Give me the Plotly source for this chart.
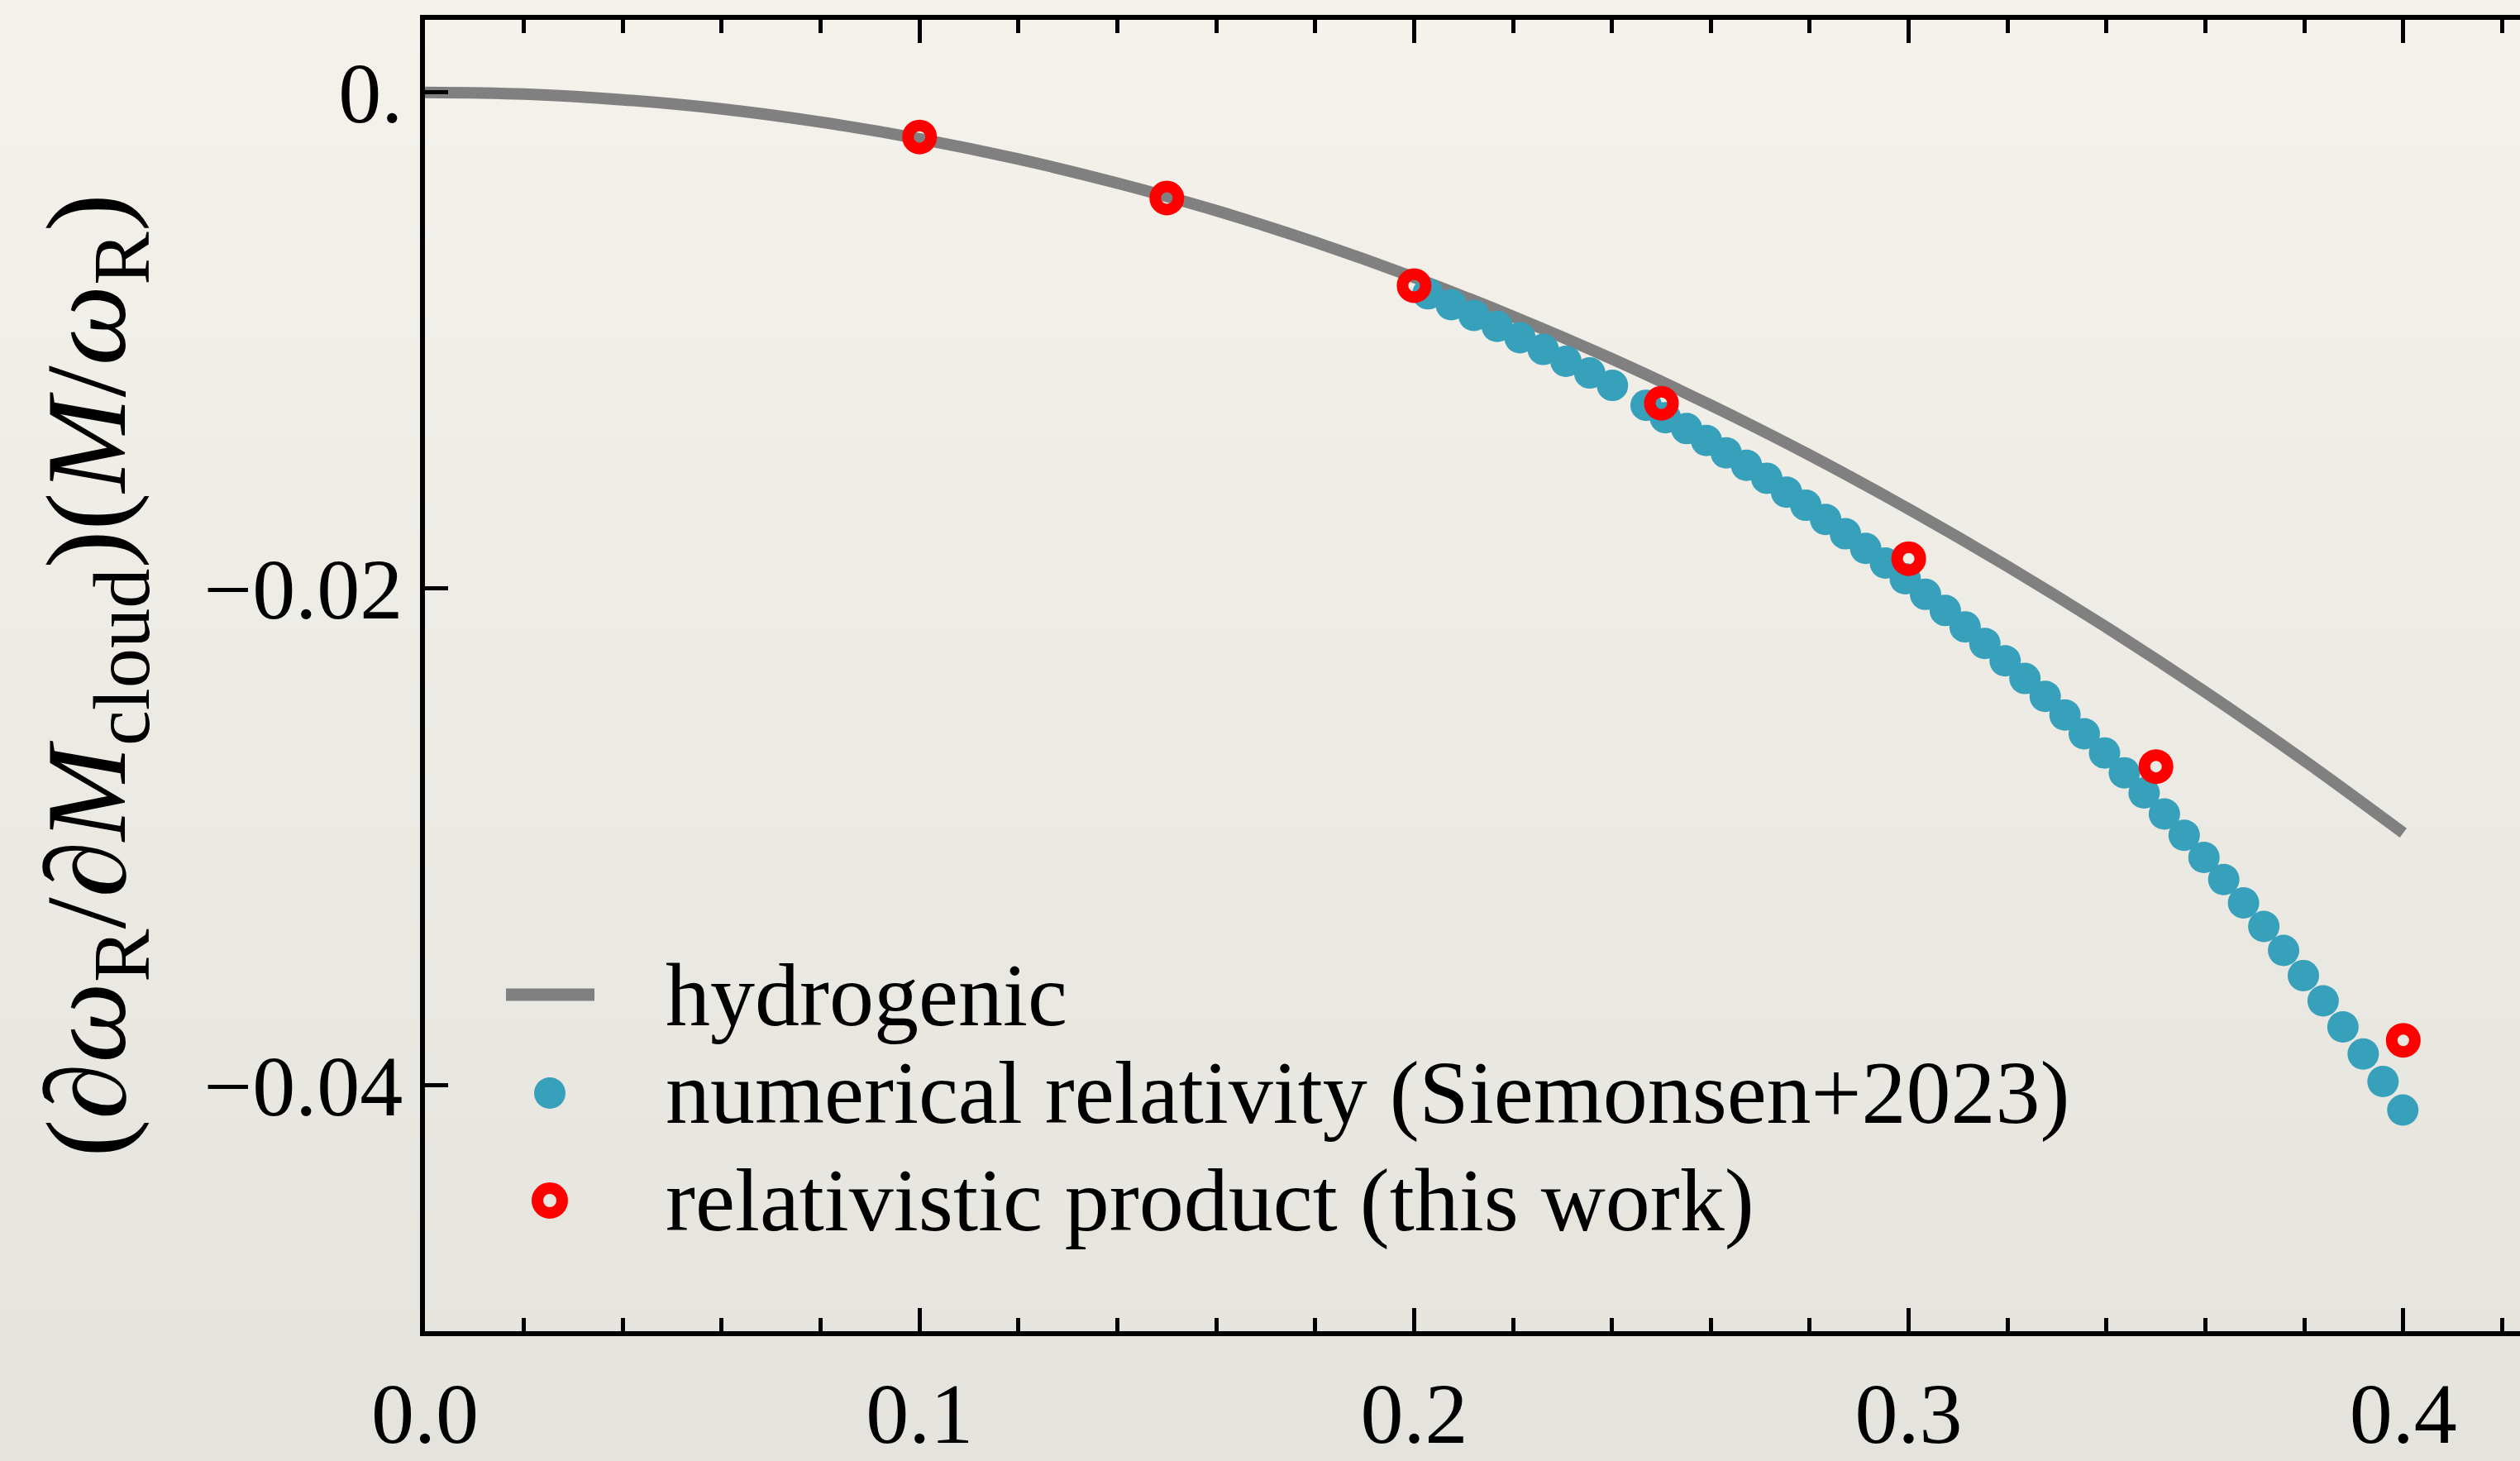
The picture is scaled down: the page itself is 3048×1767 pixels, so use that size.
import base64
import struct
import zlib

import plotly.graph_objects as go

# ---------------- data ----------------
hydro_x = [0.0, 0.02, 0.04, 0.06, 0.08, 0.10, 0.12, 0.14, 0.16, 0.18, 0.20,
           0.22, 0.24, 0.26, 0.28, 0.30, 0.32, 0.34, 0.36, 0.38, 0.40]
hydro_y = [0.0, -0.00007, -0.0003, -0.00067, -0.0012, -0.00187, -0.00269,
           -0.00366, -0.00477, -0.00604, -0.00746, -0.00903, -0.01074,
           -0.01261, -0.01462, -0.01679, -0.0191, -0.02156, -0.02417,
           -0.02693, -0.02984]

nr_x = [0.2028, 0.2075, 0.2121, 0.2168, 0.2214, 0.2261, 0.2307, 0.2355, 0.2401,
        0.2469, 0.2508, 0.2551, 0.2591, 0.2631, 0.2672, 0.2713, 0.2753, 0.2792,
        0.2832, 0.2872, 0.2913, 0.2953, 0.2993, 0.3034, 0.3074, 0.3114, 0.3154,
        0.3195, 0.3235, 0.3276, 0.3316, 0.3355, 0.3396, 0.3436, 0.3476, 0.3517,
        0.3557, 0.3597, 0.3637, 0.3677, 0.3718, 0.3758, 0.3798, 0.3838, 0.3878,
        0.3919, 0.3959, 0.3999]
nr_y = [-0.00812, -0.00856, -0.00899, -0.00943, -0.00989, -0.01036, -0.01084,
        -0.01131, -0.01181, -0.01261, -0.01311, -0.01355, -0.01403, -0.01453,
        -0.01503, -0.01555, -0.01611, -0.01664, -0.01721, -0.01779, -0.01838,
        -0.01897, -0.01960, -0.02023, -0.02088, -0.02154, -0.02221, -0.02291,
        -0.02362, -0.02434, -0.02509, -0.02585, -0.02662, -0.02742, -0.02823,
        -0.02908, -0.02994, -0.03083, -0.03172, -0.03266, -0.03361, -0.03458,
        -0.03559, -0.03661, -0.03766, -0.03875, -0.03986, -0.04101]

rel_x = [0.10, 0.15, 0.20, 0.25, 0.30, 0.35, 0.40]
rel_y = [-0.0018, -0.00426, -0.00779, -0.01253, -0.01879, -0.02717, -0.0382]

x_tickvals = [0.0, 0.1, 0.2, 0.3, 0.4]
x_ticktext = ["0.0", "0.1", "0.2", "0.3", "0.4"]
y_tickvals = [0.0, -0.02, -0.04]
y_ticktext = ["0.", "\u22120.02", "\u22120.04"]

legend_labels = ["hydrogenic",
                 "numerical relativity (Siemonsen+2023)",
                 "relativistic product (this work)"]

# ---------------- styling ----------------
W, H = 3048, 1767
ML, MR, MT, MB = 514, 0, 24, 157
GRAY = "#808080"
BLUE = "#37A0BA"
RED = "#FF0000"
FONT = "Liberation Serif, Times New Roman, serif"


def gradient_png(top, bottom, n=256):
    rows = b""
    for i in range(n):
        t = i / (n - 1)
        c = bytes(int(round(top[k] + (bottom[k] - top[k]) * t)) for k in range(3))
        rows += b"\x00" + c
    def chunk(tag, data):
        return (struct.pack(">I", len(data)) + tag + data +
                struct.pack(">I", zlib.crc32(tag + data) & 0xFFFFFFFF))
    png = b"\x89PNG\r\n\x1a\n"
    png += chunk(b"IHDR", struct.pack(">IIBBBBB", 1, n, 8, 2, 0, 0, 0))
    png += chunk(b"IDAT", zlib.compress(rows))
    png += chunk(b"IEND", b"")
    return "data:image/png;base64," + base64.b64encode(png).decode()


bg = gradient_png((245, 242, 236), (229, 227, 221))

fig = go.Figure()
fig.add_trace(go.Scatter(x=hydro_x, y=hydro_y, mode="lines", name=legend_labels[0],
                         line=dict(color=GRAY, width=14, shape="spline"),
                         showlegend=False))
fig.add_trace(go.Scatter(x=nr_x, y=nr_y, mode="markers", name=legend_labels[1],
                         marker=dict(color=BLUE, size=38, line=dict(width=0)),
                         showlegend=False))
fig.add_trace(go.Scatter(x=rel_x, y=rel_y, mode="markers", name=legend_labels[2],
                         marker=dict(symbol="circle", size=28,
                                     color="rgba(0,0,0,0)",
                                     line=dict(color=RED, width=14)),
                         showlegend=False))

# ---- manual legend (pixel positions converted to paper coords) ----
PW = W - ML - MR
PH = H - MT - MB


def px(xp):
    return (xp - ML) / PW


def py(yp):
    return (H - MB - yp) / PH


shapes = []
annotations = []
rows_y = [1203, 1322, 1452]
sym_cx = 665
text_x = 803
shapes.append(dict(type="line", xref="paper", yref="paper",
                   x0=px(612), x1=px(719), y0=py(rows_y[0]), y1=py(rows_y[0]),
                   line=dict(color=GRAY, width=15)))
r = 19
shapes.append(dict(type="circle", xref="paper", yref="paper",
                   x0=px(sym_cx - r), x1=px(sym_cx + r),
                   y0=py(rows_y[1] + r), y1=py(rows_y[1] - r),
                   fillcolor=BLUE, line=dict(width=0)))
r2 = 15
shapes.append(dict(type="circle", xref="paper", yref="paper",
                   x0=px(sym_cx - r2), x1=px(sym_cx + r2),
                   y0=py(rows_y[2] + r2), y1=py(rows_y[2] - r2),
                   fillcolor="rgba(0,0,0,0)", line=dict(color=RED, width=14)))
for lab, yy in zip(legend_labels, rows_y):
    annotations.append(dict(text=lab, xref="paper", yref="paper",
                            x=px(text_x), y=py(yy), xanchor="left",
                            yanchor="middle", showarrow=False,
                            font=dict(family=FONT, size=108, color="black")))

fig.update_layout(
    width=W, height=H,
    margin=dict(l=ML, r=MR, t=MT, b=MB, autoexpand=False),
    paper_bgcolor="#EEEBE5",
    plot_bgcolor="rgba(0,0,0,0)",
    font=dict(family=FONT, color="black"),
    showlegend=False,
    images=[dict(source=bg, xref="paper", yref="paper", x=-ML / PW, y=1 + MT / PH,
                 sizex=W / PW, sizey=H / PH, xanchor="left", yanchor="top",
                 sizing="stretch", layer="below")],
    shapes=shapes,
    annotations=annotations,
)

fig.update_xaxes(
    range=[0, 0.4236], showgrid=False, zeroline=False,
    showline=True, linecolor="black", linewidth=6, mirror="allticks",
    ticks="inside", ticklen=28, tickwidth=5, tickcolor="black",
    tickvals=x_tickvals, ticktext=x_ticktext,
    tickfont=dict(family=FONT, size=104, color="black"),
    ticklabelstandoff=4,
    minor=dict(dtick=0.02, tick0=0, ticks="inside", ticklen=16, tickwidth=5,
               tickcolor="black", showgrid=False),
    automargin=False,
)
fig.update_yaxes(
    range=[-0.04992, 0.00292], showgrid=False, zeroline=False,
    showline=True, linecolor="black", linewidth=6, mirror=False,
    ticks="inside", ticklen=28, tickwidth=5, tickcolor="black",
    tickvals=y_tickvals, ticktext=y_ticktext,
    tickfont=dict(family=FONT, size=104, color="black"),
    ticklabelstandoff=0,
    title=dict(text="(<i>\u2202\u03c9</i><sub>R</sub>/<i>\u2202M</i><sub>cloud</sub>)"
                    "(<i>M</i>/<i>\u03c9</i><sub>R</sub>)",
               font=dict(family=FONT, size=138, color="black"), standoff=50),
    automargin=False,
)

fig.write_html("out.html")
